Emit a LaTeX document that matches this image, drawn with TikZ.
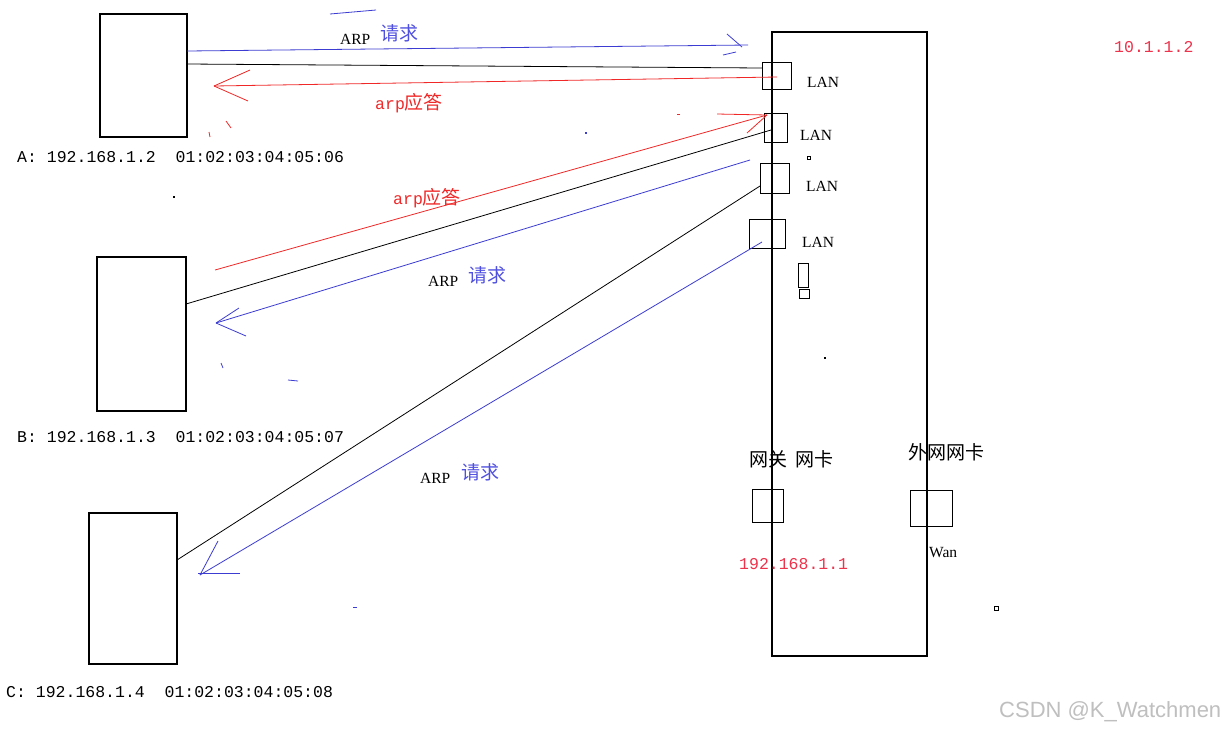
\documentclass[tikz,border=0pt]{standalone}
\usepackage{fontspec}
\setmainfont{Liberation Serif}
\newfontfamily\cjk{Noto Sans CJK SC}
\newfontfamily\mono{Liberation Mono}
\newfontfamily\wmfont{Liberation Sans}
\definecolor{ablue}{RGB}{60,60,210}
\definecolor{ared}{RGB}{240,40,40}
\definecolor{tred}{RGB}{238,50,75}
\definecolor{tblue}{RGB}{80,80,225}
\tikzset{
  hostbox/.style={draw=black,line width=1.1pt,inner sep=0pt,outer sep=0pt,anchor=north west},
  portbox/.style={draw=black,line width=1pt,inner sep=0pt,outer sep=0pt,anchor=north west},
  bline/.style={draw=ablue,line width=0.8pt},
  rline/.style={draw=ared,line width=0.8pt},
  kline/.style={draw=black,line width=0.8pt},
  lbl/.style={anchor=west,inner sep=0pt,font=\mono\fontsize{16.5}{18}\selectfont},
  lan/.style={anchor=west,inner sep=0pt,font=\fontsize{15.5}{17}\selectfont},
  cjktxt/.style={anchor=west,inner sep=0pt,font=\cjk\fontsize{19}{21}\selectfont},
}
\begin{document}
\begin{tikzpicture}[x=1pt,y=-1pt]
\useasboundingbox (0,0) rectangle (1228,732);
\fill[white] (0,0) rectangle (1228,732);

% hosts
\node[hostbox,minimum width=87pt,minimum height=123pt] (A) at (100,14) {};
\node[hostbox,minimum width=89pt,minimum height=154pt] (B) at (97,257) {};
\node[hostbox,minimum width=88pt,minimum height=151pt] (C) at (89,513) {};

% router
\node[hostbox,minimum width=155pt,minimum height=624pt] (R) at (772,32) {};
\node[portbox,minimum width=29pt,minimum height=27pt] (p1) at (762,62) {};
\node[portbox,minimum width=23pt,minimum height=29pt] (p2) at (764,113) {};
\node[portbox,minimum width=29pt,minimum height=30pt] (p3) at (760,163) {};
\node[portbox,minimum width=36pt,minimum height=29pt] (p4) at (749,219) {};
\node[portbox,minimum width=10pt,minimum height=24pt] (s1) at (798,263) {};
\node[portbox,minimum width=10pt,minimum height=9pt] (s2) at (799,289) {};
\node[portbox,minimum width=31pt,minimum height=33pt] (gw) at (752,489) {};
\node[portbox,minimum width=42pt,minimum height=36pt] (wan) at (910,490) {};

% coordinates
\coordinate (topblueend) at (748,45);
\coordinate (redtipA) at (214,86);
\coordinate (redstartB) at (215,270);
\coordinate (bluestartB) at (750,160);
\coordinate (bluetipB) at (216,323);
\coordinate (bluetipC) at (200,575);

% A connections
\draw[bline] ([yshift=-37pt]A.north east) -- (topblueend);
\draw[bline] (727,34) -- (742,47);
\draw[bline] (723,55) -- (736,52);
\draw[kline] ([yshift=-50pt]A.north east) -- ([yshift=-6pt]p1.north west);
\draw[rline] ([xshift=15pt,yshift=-15pt]p1.north west) -- (redtipA);
\draw[rline] (redtipA) -- (250,70);
\draw[rline] (redtipA) -- (248,101);

% B connections
\draw[rline] (redstartB) -- ([xshift=3pt,yshift=-2pt]p2.north west);
\draw[rline] ([xshift=3pt,yshift=-2pt]p2.north west) -- (717,114);
\draw[rline] ([xshift=3pt,yshift=-2pt]p2.north west) -- (747,133);
\draw[kline] ([yshift=-47pt]B.north east) -- ([xshift=7pt,yshift=-17pt]p2.north west);
\draw[bline] (bluestartB) -- (bluetipB);
\draw[bline] (bluetipB) -- (239,308);
\draw[bline] (bluetipB) -- (246,336);

% C connections
\draw[kline] ([yshift=-47pt]C.north east) -- ([yshift=-23pt]p3.north west);
\draw[bline] ([xshift=13pt,yshift=-23pt]p4.north west) -- (bluetipC);
\draw[bline] (bluetipC) -- (218,541);
\draw[bline] (198,573) -- (240,573);

% texts
\node[lan] (t1) at (340,39) {ARP};
\node[cjktxt,text=tblue] (t2) at (380,33) {请求};
\node[anchor=west,inner sep=0pt,text=ared] (t3) at (375,103) {{\mono\fontsize{16.5}{18}\selectfont arp}{\cjk\fontsize{19}{21}\selectfont 应答}};
\node[anchor=west,inner sep=0pt,text=ared] (t4) at (393,198) {{\mono\fontsize{16.5}{18}\selectfont arp}{\cjk\fontsize{19}{21}\selectfont 应答}};
\node[lan] (t5) at (428,281) {ARP};
\node[cjktxt,text=tblue] (t6) at (468,275) {请求};
\node[lan] (t7) at (420,478) {ARP};
\node[cjktxt,text=tblue] (t8) at (461,472) {请求};

\node[lan] (l1) at (807,82) {LAN};
\node[lan] (l2) at (800,135) {LAN};
\node[lan] (l3) at (806,186) {LAN};
\node[lan] (l4) at (802,242) {LAN};

\node[cjktxt] (gwt) at (749,459) {网关\hspace{8pt}网卡};
\node[lbl,text=tred] (gwip) at (739,564) {192.168.1.1};
\node[cjktxt] (want) at (908,452) {外网网卡};
\node[lan] (wanl) at (929,553) {Wan};
\node[lbl,text=tred] (wanip) at (1114,47) {10.1.1.2};

\node[lbl] (la) at (17,157) {A:~192.168.1.2~~01:02:03:04:05:06};
\node[lbl] (lb) at (17,437) {B:~192.168.1.3~~01:02:03:04:05:07};
\node[lbl] (lc) at (6,692) {C:~192.168.1.4~~01:02:03:04:05:08};

\node[anchor=west,inner sep=0pt,text=black!25,font=\wmfont\fontsize{22}{24}\selectfont] (wm) at (999,712) {CSDN @K\_Watchmen};

% stray marks
\fill[black] (173,196) rectangle (175,198);
\fill[black] (824,357) rectangle (826,359);
\draw[black,line width=0.7pt] (807,156) rectangle (810,159);
\draw[black,line width=0.7pt] (994,606) rectangle (998,610);
\draw[bline] (330,14) -- (376,10);
\draw[rline] (209,132) -- (210,137);
\draw[rline] (226,121) -- (231,128);
\draw[bline] (221,363) -- (223,368);
\draw[bline] (288,380) -- (298,381);
\draw[bline] (353,607) -- (357,607);
\draw[rline] (677,114) -- (680,114);
\fill[ablue] (585,132) rectangle (587,134);
\end{tikzpicture}
\end{document}
